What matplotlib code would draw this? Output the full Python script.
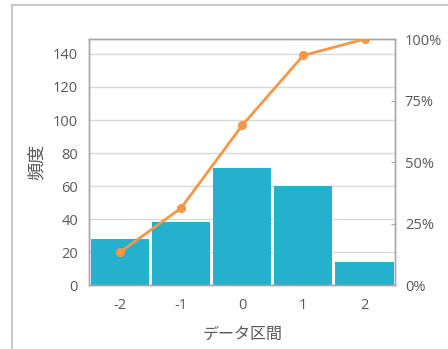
import matplotlib
matplotlib.use("Agg")
import matplotlib.pyplot as plt
from matplotlib.lines import Line2D
import numpy as np

plt.rcParams['font.family'] = ['Open Sans', 'Noto Sans CJK JP', 'DejaVu Sans']

categories = ["-2", "-1", "0", "1", "2"]
counts = [28, 38, 71, 60, 14]
right_ticks = [0, 25, 50, 75, 100]
right_tick_labels = ["0%", "25%", "50%", "75%", "100%"]

cum_pct = np.cumsum(counts) / np.sum(counts) * 100

bar_color = "#23B1CB"
line_color = "#F79646"
text_color = "#595959"
spine_color = "#A6A6A6"

fig = plt.figure(figsize=(4.48, 3.49), dpi=100)
ax = fig.add_axes([0.199, 0.183, 0.683, 0.705])

x = np.arange(len(categories))
ax.bar(x, counts, width=0.95, color=bar_color, zorder=2)
ax.set_xlim(-0.5, len(categories) - 0.5)
ax.set_ylim(0, 149)
ax.set_yticks(range(0, 141, 20))
ax.set_xticks(x)
ax.set_xticklabels(categories)
ax.grid(axis="y", color="#D9D9D9", linewidth=1, zorder=0)
ax.tick_params(axis="both", colors=text_color, labelsize=10.5, length=0, pad=8)
ax.tick_params(axis="x", pad=9)
for s in ax.spines.values():
    s.set_color(spine_color)
    s.set_linewidth(1)
ax.set_ylabel("頻度", color=text_color, fontsize=13, labelpad=5)
ax.set_xlabel("データ区間", color=text_color, fontsize=11.5, labelpad=10)

ax2 = ax.twinx()
ax2.plot(x, cum_pct, color=line_color, linewidth=2, marker="o", markersize=5.5, zorder=3)
ax2.set_ylim(0, 100)
ax2.set_yticks(right_ticks)
ax2.set_yticklabels(right_tick_labels)
ax2.tick_params(axis="y", colors=text_color, labelsize=10.5, length=3, direction="in", pad=7)
ax2.tick_params(axis="y", color=spine_color)
for s in ax2.spines.values():
    s.set_color(spine_color)
    s.set_linewidth(1)

# outer frame
fig.add_artist(Line2D([12 / 448, 12 / 448], [0, 1 - 5 / 349], color="#BFBFBF", linewidth=1.2, transform=fig.transFigure))
fig.add_artist(Line2D([12 / 448, 1], [1 - 5 / 349, 1 - 5 / 349], color="#BFBFBF", linewidth=1.2, transform=fig.transFigure))

fig.savefig("out.png", dpi=100, facecolor="white")
